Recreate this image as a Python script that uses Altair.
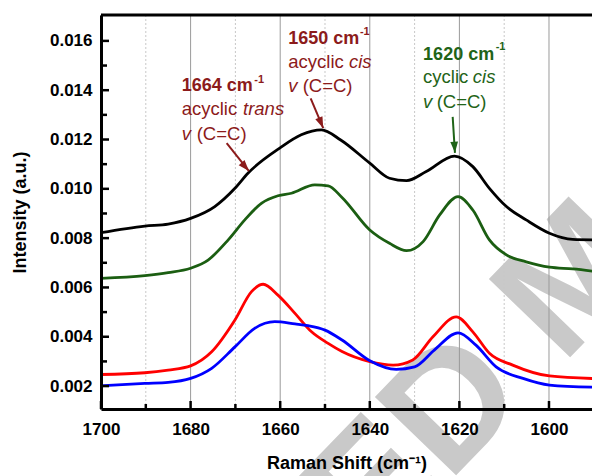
import altair as alt
import pandas as pd

# ---------------- data ----------------
black_x = [1700, 1690.2, 1685, 1680, 1674.6, 1670.1, 1667.2, 1660.1, 1655.3, 1650.8, 1646.5,
           1640, 1635.6, 1631.8, 1627.4, 1621.1, 1617, 1613.3, 1609.5, 1605.1, 1599.9, 1594.7, 1589.3]
black_y = [0.00822, 0.00849, 0.00857, 0.0088, 0.00928, 0.01002, 0.01063, 0.01165, 0.01219, 0.01239, 0.01198,
           0.01104, 0.01043, 0.01033, 0.0107, 0.01133, 0.0109, 0.01002, 0.00928, 0.00874, 0.0082, 0.00795, 0.00793]

green_x = [1700, 1690.2, 1685, 1680, 1676.1, 1671.6, 1667.9, 1664.2, 1660.5, 1657.5, 1652.3, 1649.3, 1646.2,
           1640, 1635.6, 1631.8, 1628.1, 1624.4, 1620.3, 1617, 1613.3, 1609.5, 1605.1, 1599.9, 1594.7, 1589.3]
green_y = [0.00637, 0.00648, 0.0066, 0.00678, 0.00711, 0.00793, 0.00874, 0.00941, 0.00972, 0.00982, 0.01016, 0.01012, 0.00965,
           0.00833, 0.00779, 0.00749, 0.00786, 0.00894, 0.00968, 0.00914, 0.00793, 0.00732, 0.00704, 0.00682, 0.00675, 0.00664]

red_x = [1700, 1690.2, 1685, 1680, 1675.3, 1670.1, 1666.4, 1663.8, 1660.5, 1656.7, 1653, 1649.3, 1646.2,
         1640, 1634.8, 1630.4, 1625.9, 1620.7, 1617, 1613.3, 1608.1, 1599.9, 1589.3]
red_y = [0.00247, 0.00254, 0.00265, 0.00282, 0.00339, 0.00468, 0.00583, 0.00613, 0.00569, 0.00495, 0.0042, 0.00373, 0.0034,
         0.00299, 0.00285, 0.00306, 0.004, 0.00481, 0.0042, 0.00333, 0.00285, 0.00241, 0.0023]

blue_x = [1700, 1690.2, 1685, 1680, 1675.3, 1670.1, 1665.7, 1661.2, 1656.7, 1653.8, 1650, 1646.2,
          1640, 1634.1, 1630, 1625.6, 1620.3, 1616.3, 1611.8, 1605.8, 1599.9, 1589.3]
blue_y = [0.00201, 0.00211, 0.00215, 0.00231, 0.00272, 0.00359, 0.00434, 0.00461, 0.00452, 0.00445, 0.00427, 0.00387,
          0.00303, 0.00268, 0.00278, 0.00346, 0.00416, 0.00366, 0.00278, 0.00231, 0.00204, 0.00195]

series_names = ["black", "green", "red", "blue"]
series_colors = ["#000000", "#1b5e12", "#ff0000", "#0000ff"]

x_major = [1600, 1620, 1640, 1660, 1680, 1700]
x_minor = [1610, 1630, 1650, 1670, 1690]
y_major = [0.002, 0.004, 0.006, 0.008, 0.010, 0.012, 0.014, 0.016]
y_minor = [0.003, 0.005, 0.007, 0.009, 0.011, 0.013, 0.015]

# annotations
RED_T = "#8c1b1b"
GREEN_T = "#1f6418"
ann_bold_text = ["1664 cm", "1650 cm", "1620 cm"]
ann_bold_x = [1682.0, 1658.2, 1628.1]
ann_bold_y = [0.01398, 0.01588, 0.01523]
ann_color = [RED_T, RED_T, GREEN_T]
ann_sup_x = [1665.8, 1642.2, 1611.9]
ann_sup_y = [0.01430, 0.01624, 0.01563]
ann_l2_text = ["acyclic", "acyclic", "cyclic"]
ann_l2_y = [0.01300, 0.01489, 0.01428]
ann_l2_it_text = ["trans", "cis", "cis"]
ann_l2_it_x = [1668.3, 1644.65, 1617.0]
ann_l3_y = [0.01198, 0.01394, 0.01328]
ann_l3_x2 = [1678.64, 1654.98, 1625.08]
arrow_x1 = [1671.95, 1653.2, 1621.5]
arrow_y1 = [0.01185, 0.01367, 0.01292]
arrow_x2 = [1666.97, 1650.39, 1620.99]
arrow_y2 = [0.01072, 0.01246, 0.01146]
arrow_angle = [139, 157, 176]

# ---------------- tables ----------------
rows = []
for name, xs_, ys_ in zip(series_names, [black_x, green_x, red_x, blue_x], [black_y, green_y, red_y, blue_y]):
    for a, b in zip(xs_, ys_):
        rows.append({"series": name, "shift": a, "intensity": b})
lines_df = pd.DataFrame(rows)

ann_df = pd.DataFrame({
    "bold": ann_bold_text, "bx": ann_bold_x, "by": ann_bold_y, "color": ann_color,
    "sx": ann_sup_x, "sy": ann_sup_y, "l2": ann_l2_text, "l2y": ann_l2_y,
    "it": ann_l2_it_text, "itx": ann_l2_it_x, "l3y": ann_l3_y, "l3x2": ann_l3_x2,
    "ax1": arrow_x1, "ay1": arrow_y1, "ax2": arrow_x2, "ay2": arrow_y2, "ang": arrow_angle,
})

W, H = 491, 394
FONT = "Liberation Sans"
FSB = 18
FSN = 18.5
xs = alt.Scale(domain=[1700, 1590.4], nice=False, zero=False)
ys = alt.Scale(domain=[0.00107, 0.01705], nice=False, zero=False)

x_axis = alt.Axis(values=x_major, format="d", title="Raman Shift (cm⁻¹)",
                  labelFont=FONT, labelFontWeight="bold", labelFontSize=17, labelColor="black",
                  titleFont=FONT, titleFontWeight="bold", titleFontSize=18, titleColor="black",
                  tickSize=0, labelPadding=12, titlePadding=17, grid=False, labelFlush=False,
                  domainColor="black", domainWidth=3, zindex=1)
y_axis = alt.Axis(values=y_major, format=".3f", title="Intensity (a.u.)",
                  labelFont=FONT, labelFontWeight="bold", labelFontSize=17, labelColor="black",
                  titleFont=FONT, titleFontWeight="bold", titleFontSize=18, titleColor="black",
                  tickSize=0, labelPadding=9, titlePadding=20, grid=False, labelFlush=False,
                  domainColor="black", domainWidth=3, zindex=1)


def X(f):
    return alt.X(f, scale=xs, axis=x_axis)


def Y(f):
    return alt.Y(f, scale=ys, axis=y_axis)


# watermark
wm = alt.Chart(pd.DataFrame({"t": ["ACCEPTED MANUSCRIPT"]})).mark_text(
    font=FONT, fontWeight="bold", fontSize=164, color="#c9c9c9",
    align="left", baseline="middle", angle=314,
).encode(x=alt.value(-232), y=alt.value(998), text="t:N")

grid_major = alt.Chart(pd.DataFrame({"p": x_major})).mark_rule(
    color="#9a9a9a", strokeWidth=1).encode(x=X("p:Q"))
grid_minor = alt.Chart(pd.DataFrame({"p": x_minor})).mark_rule(
    color="#c8c8c8", strokeWidth=1, strokeDash=[2, 2]).encode(x=X("p:Q"))

lines = alt.Chart(lines_df).mark_line(strokeWidth=2.8, interpolate="monotone").encode(
    x=X("shift:Q"),
    y=Y("intensity:Q"),
    color=alt.Color("series:N", scale=alt.Scale(domain=series_names, range=series_colors), legend=None),
    detail="series:N",
)

top_border = alt.Chart(pd.DataFrame({"a": [0]})).mark_rule(color="black", strokeWidth=3).encode(
    y=alt.value(0))

xt_major = alt.Chart(pd.DataFrame({"p": x_major})).mark_rule(color="black", strokeWidth=2.5).encode(
    x=X("p:Q"), y=alt.value(H), y2=alt.value(H - 8))
xt_minor = alt.Chart(pd.DataFrame({"p": x_minor})).mark_rule(color="black", strokeWidth=2.5).encode(
    x=X("p:Q"), y=alt.value(H), y2=alt.value(H - 5))
yt_major = alt.Chart(pd.DataFrame({"v": y_major})).mark_rule(color="black", strokeWidth=2.5).encode(
    y=Y("v:Q"), x=alt.value(0), x2=alt.value(8))
yt_minor = alt.Chart(pd.DataFrame({"v": y_minor})).mark_rule(color="black", strokeWidth=2.5).encode(
    y=Y("v:Q"), x=alt.value(0), x2=alt.value(6))

base = alt.Chart(ann_df)
tcol = alt.Color("color:N", scale=None)
t_bold = base.mark_text(font=FONT, fontWeight="bold", fontSize=FSB, align="left", baseline="alphabetic").encode(
    x=X("bx:Q"), y=Y("by:Q"), text="bold:N", color=tcol)
t_sup = base.mark_text(font=FONT, fontWeight="bold", fontSize=11, align="left", baseline="alphabetic").encode(
    x=X("sx:Q"), y=Y("sy:Q"), text=alt.value("-1"), color=tcol)
t_l2 = base.mark_text(font=FONT, fontSize=FSN, align="left", baseline="alphabetic").encode(
    x=X("bx:Q"), y=Y("l2y:Q"), text="l2:N", color=tcol)
t_it = base.mark_text(font=FONT, fontStyle="italic", fontSize=FSN, align="left", baseline="alphabetic").encode(
    x=X("itx:Q"), y=Y("l2y:Q"), text="it:N", color=tcol)
t_v = base.mark_text(font=FONT, fontStyle="italic", fontSize=FSN, align="left", baseline="alphabetic").encode(
    x=X("bx:Q"), y=Y("l3y:Q"), text=alt.value("v"), color=tcol)
t_cc = base.mark_text(font=FONT, fontSize=FSN, align="left", baseline="alphabetic").encode(
    x=X("l3x2:Q"), y=Y("l3y:Q"), text=alt.value("(C=C)"), color=tcol)
arr_line = base.mark_rule(strokeWidth=2).encode(
    x=X("ax1:Q"), y=Y("ay1:Q"), x2="ax2:Q", y2="ay2:Q", color=tcol)
arr_head = base.mark_point(shape="M0,0L-0.55,1.6L0.55,1.6Z", filled=True, size=196, opacity=1).encode(
    x=X("ax2:Q"), y=Y("ay2:Q"), angle=alt.Angle("ang:Q", scale=None), color=tcol)

chart = alt.layer(
    wm, grid_major, grid_minor, lines, top_border, xt_major, xt_minor, yt_major, yt_minor,
    t_bold, t_sup, t_l2, t_it, t_v, t_cc, arr_line, arr_head,
).properties(
    width=W, height=H,
    autosize=alt.AutoSizeParams(type="none"),
    padding={"left": 101, "top": 15, "right": 0, "bottom": 67},
).configure_view(stroke=None)

chart.save("out.html", embed_options={"renderer": "svg", "actions": False})
